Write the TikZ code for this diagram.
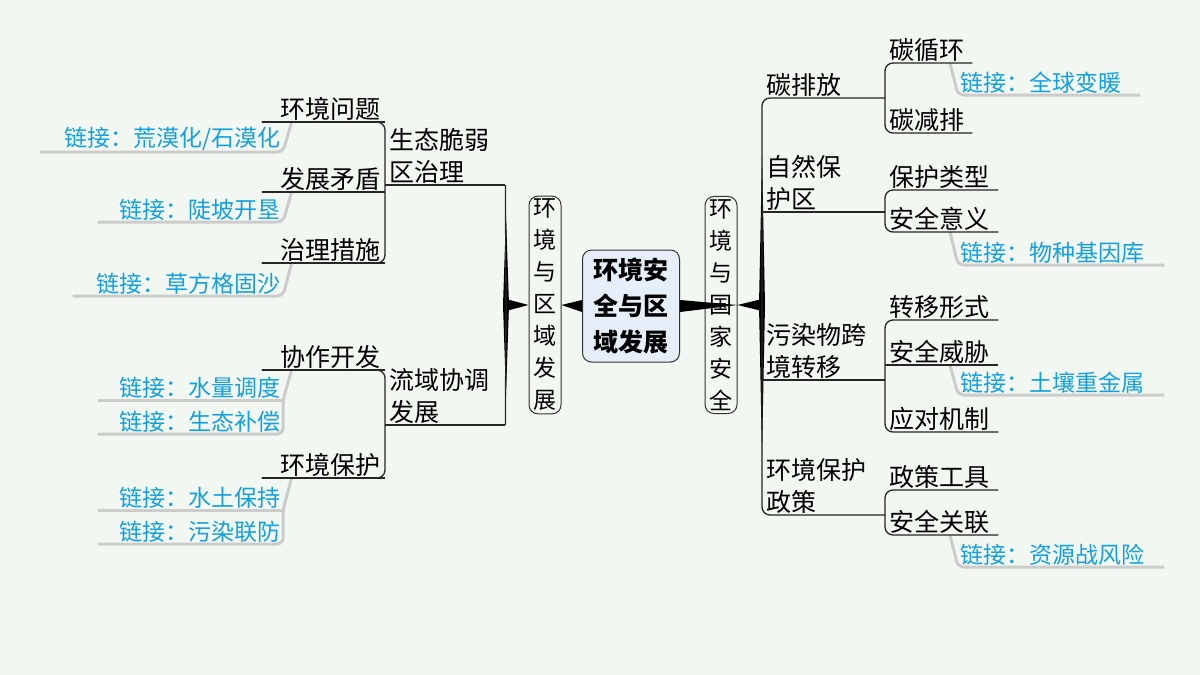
\documentclass[tikz,border=0pt]{standalone}
\usepackage{fontspec}
\setmainfont{Noto Sans CJK SC}
\begin{document}
\begin{tikzpicture}[x=1pt,y=-1pt,
  it/.style={inner xsep=4pt,inner ysep=1pt,font=\fontsize{25}{32}\selectfont,text=black},
  L/.style={it,anchor=south east,align=right},
  R/.style={it,anchor=south west,align=left},
  lk/.style={inner xsep=2pt,inner ysep=1pt,font=\fontsize{23}{28}\selectfont,text=lblue},
  ul/.style={line width=1.3pt,black!85},
  rc/.style={ul,rounded corners=8pt},
  gl/.style={line width=3pt,gray!40,rounded corners=6pt},
  vbox/.style={draw=black!80,line width=1pt,rounded corners=9pt,fill=bg,align=center,inner sep=3pt,font=\fontsize{23}{32}\selectfont,text width=26pt,minimum height=194pt},
  wedge/.style={fill=black}
]
\definecolor{bg}{HTML}{F3F7F1}
\definecolor{lblue}{HTML}{13A0E0}
\definecolor{cfill}{HTML}{E6EEF9}
\useasboundingbox (0,0) rectangle (1200,675);
\fill[bg] (0,0) rectangle (1200,675);

% centre
\node[draw=black!80,line width=1pt,rounded corners=9pt,fill=cfill,align=center,font=\fontsize{25}{36}\selectfont\bfseries,minimum width=97pt,minimum height=112pt,inner sep=2pt] (c) at (631,306) {环境安\\全与区\\域发展};
\node[vbox] (rl) at (545,305) {环\\境\\与\\区\\域\\发\\展};
\node[vbox] (rr) at (721,305) {环\\境\\与\\国\\家\\安\\全};
\fill[wedge] (c.west) ++(0,-6) -- ++(0,12) -- (rl.east) -- cycle;
\fill[wedge] (c.east) ++(0,-6) -- ++(0,12) -- (rr.east) -- cycle;
\coordinate (tl) at (506,305);
\coordinate (tr) at (762,305);
\fill[wedge] (rl.west) -- ([yshift=-6]tl) -- ([yshift=6]tl) -- cycle;
\fill[wedge] (rr.east) -- ([yshift=-6]tr) -- ([yshift=6]tr) -- cycle;
\fill[wedge] ([yshift=-90]tl) -- ([xshift=3]tl) -- ([yshift=90]tl) -- ([xshift=-3]tl) -- cycle;
\fill[wedge] ([yshift=-150]tr) -- ([xshift=3]tr) -- ([yshift=150]tr) -- ([xshift=-3]tr) -- cycle;

% ---------- left side
\node[R,text width=112pt] (pl1) at (385,185) {生态脆弱\\区治理};
\node[R,text width=112pt] (pl2) at (385,425) {流域协调\\发展};
\node[L,text width=115pt] (wl1) at (385,122) {环境问题};
\node[L,text width=115pt] (wl2) at (385,192) {发展矛盾};
\node[L,text width=115pt] (wl3) at (385,263) {治理措施};
\node[L,text width=115pt] (wl4) at (385,370) {协作开发};
\node[L,text width=115pt] (wl5) at (385,478) {环境保护};
\draw[rc] (pl1.south east) -- (tl) -- (pl2.south east);
\draw[ul] (pl1.south west) -- (pl1.south east);
\draw[ul] (pl2.south west) -- (pl2.south east);
\draw[rc] (wl1.south west) -- (wl1.south east) -- (wl3.south east) -- (wl3.south west);
\draw[ul] (wl2.south west) -- (wl2.south east);
\draw[rc] (wl4.south west) -- (wl4.south east) -- (wl5.south east) -- (wl5.south west);

\node[lk,anchor=south east,align=right,text width=239pt] (ll1) at (283,152) {链接：荒漠化/石漠化};
\node[lk,anchor=south east,align=right,text width=181pt] (ll2) at (283,222) {链接：陡坡开垦};
\node[lk,anchor=south east,align=right,text width=206pt] (ll3) at (283,296) {链接：草方格固沙};
\node[lk,anchor=south east,align=right,text width=181pt] (ll4) at (283,400) {链接：水量调度};
\node[lk,anchor=south east,align=right,text width=181pt] (ll5) at (283,434) {链接：生态补偿};
\node[lk,anchor=south east,align=right,text width=181pt] (ll6) at (283,510) {链接：水土保持};
\node[lk,anchor=south east,align=right,text width=181pt] (ll7) at (283,544) {链接：污染联防};
\draw[gl] ([xshift=30pt]wl1.south west) -- (ll1.south east) -- (ll1.south west);
\draw[gl] ([xshift=30pt]wl2.south west) -- (ll2.south east) -- (ll2.south west);
\draw[gl] ([xshift=30pt]wl3.south west) -- (ll3.south east) -- (ll3.south west);
\draw[gl] ([xshift=30pt]wl4.south west) -- (ll4.south east) -- (ll5.south east) -- (ll5.south west);
\draw[gl] (ll4.south east) -- (ll4.south west);
\draw[gl] ([xshift=30pt]wl5.south west) -- (ll6.south east) -- (ll7.south east) -- (ll7.south west);
\draw[gl] (ll6.south east) -- (ll6.south west);
\draw[rc] (wl4.south west) -- (wl4.south east);
\draw[rc] (wl5.south west) -- (wl5.south east);
\draw[rc] (wl1.south west) -- (wl1.south east);
\draw[rc] (wl2.south west) -- (wl2.south east);
\draw[rc] (wl3.south west) -- (wl3.south east);

% ---------- right side
\node[R,text width=115pt] (pr1) at (762,98) {碳排放};
\node[R,text width=115pt] (pr2) at (762,212) {自然保\\护区};
\node[R,text width=115pt] (pr3) at (762,380) {污染物跨\\境转移};
\node[R,text width=115pt] (pr4) at (762,515) {环境保护\\政策};
\draw[rc] (pr1.south east) -- (pr1.south west) -- (pr4.south west) -- (pr4.south east);
\draw[ul] (pr2.south west) -- (pr2.south east);
\draw[ul] (pr3.south west) -- (pr3.south east);

\node[R,text width=79pt] (rc1) at (885,63) {碳循环};
\node[R,text width=79pt] (rc2) at (885,133) {碳减排};
\node[R,text width=105pt] (rc3) at (885,190) {保护类型};
\node[R,text width=105pt] (rc4) at (885,232) {安全意义};
\node[R,text width=105pt] (rc5) at (885,320) {转移形式};
\node[R,text width=105pt] (rc6) at (885,365) {安全威胁};
\node[R,text width=105pt] (rc7) at (885,432) {应对机制};
\node[R,text width=105pt] (rc8) at (885,490) {政策工具};
\node[R,text width=105pt] (rc9) at (885,535) {安全关联};

\node[lk,anchor=south west,align=left,text width=178pt] (rk1) at (958,95) {链接：全球变暖};
\node[lk,anchor=south west,align=left,text width=202pt] (rk2) at (958,265) {链接：物种基因库};
\node[lk,anchor=south west,align=left,text width=202pt] (rk3) at (958,395) {链接：土壤重金属};
\node[lk,anchor=south west,align=left,text width=202pt] (rk4) at (958,567) {链接：资源战风险};
\draw[gl] ([xshift=65pt]rc1.south west) -- (rk1.south west) -- (rk1.south east);
\draw[gl] ([xshift=65pt]rc4.south west) -- (rk2.south west) -- (rk2.south east);
\draw[gl] ([xshift=65pt]rc6.south west) -- (rk3.south west) -- (rk3.south east);
\draw[gl] ([xshift=65pt]rc9.south west) -- (rk4.south west) -- (rk4.south east);

\draw[rc] (rc1.south east) -- (rc1.south west) -- (rc2.south west) -- (rc2.south east);
\draw[rc] (rc3.south east) -- (rc3.south west) -- (rc4.south west) -- (rc4.south east);
\draw[rc] (rc5.south east) -- (rc5.south west) -- (rc7.south west) -- (rc7.south east);
\draw[ul] (rc6.south west) -- (rc6.south east);
\draw[rc] (rc8.south east) -- (rc8.south west) -- (rc9.south west) -- (rc9.south east);
\end{tikzpicture}
\end{document}
